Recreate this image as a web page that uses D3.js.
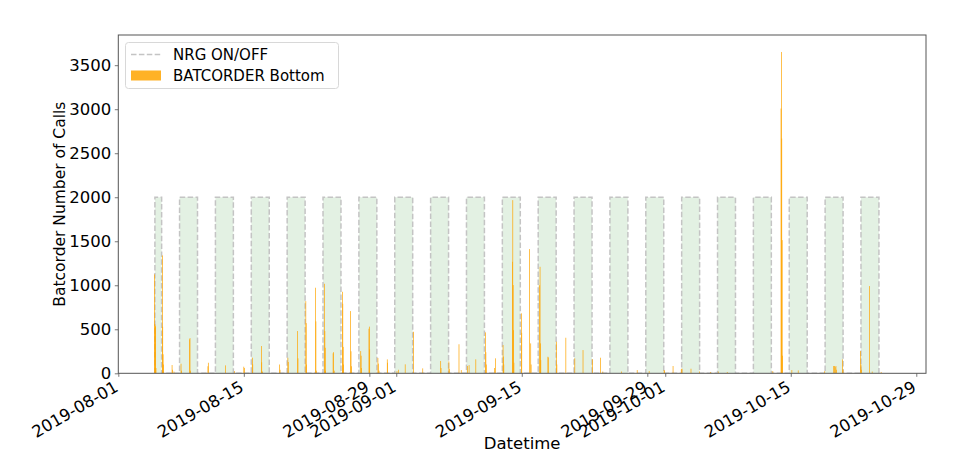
<!DOCTYPE html>
<html>
<head>
<meta charset="utf-8">
<script src="https://cdn.jsdelivr.net/npm/d3@7"></script>
<style>
  html, body { margin: 0; padding: 0; background: #fff; }
  svg { display: block; }
  text { font-family: "DejaVu Sans", sans-serif; fill: #000; }
</style>
</head>
<body>
<svg id="chart" width="969" height="455"></svg>
<script>
// ---------------- data ----------------
const xDomain = ["2019-08-01 00:00", "2019-10-30 02:00"];
const yMax = 3843;
const yTicks = [0, 500, 1000, 1500, 2000, 2500, 3000, 3500];
const xTickLabels = ["2019-08-01", "2019-08-15", "2019-08-29", "2019-09-01", "2019-09-15",
                     "2019-09-29", "2019-10-01", "2019-10-15", "2019-10-29"];

// NRG ON periods (value 2000 while ON, 0 while OFF)
const nrgLevel = 2000;
const nrgOnStart = ["2019-08-05 02:00", "2019-08-07 20:00", "2019-08-11 20:00", "2019-08-15 20:00",
  "2019-08-19 20:00", "2019-08-23 20:00", "2019-08-27 20:00", "2019-08-31 20:00", "2019-09-04 20:00",
  "2019-09-08 20:00", "2019-09-12 20:00", "2019-09-16 20:00", "2019-09-20 20:00", "2019-09-24 20:00",
  "2019-09-28 20:00", "2019-10-02 20:00", "2019-10-06 20:00", "2019-10-10 20:00", "2019-10-14 20:00",
  "2019-10-18 20:00", "2019-10-22 20:00"];
const nrgOnEnd = ["2019-08-05 20:00", "2019-08-09 20:00", "2019-08-13 20:00", "2019-08-17 20:00",
  "2019-08-21 20:00", "2019-08-25 20:00", "2019-08-29 20:00", "2019-09-02 20:00", "2019-09-06 20:00",
  "2019-09-10 20:00", "2019-09-14 20:00", "2019-09-18 20:00", "2019-09-22 20:00", "2019-09-26 20:00",
  "2019-09-30 20:00", "2019-10-04 20:00", "2019-10-08 20:00", "2019-10-12 20:00", "2019-10-16 20:00",
  "2019-10-20 20:00", "2019-10-24 20:00"];

// BATCORDER Bottom: hourly number of calls (only non-zero hours listed)
const batTimes = [
  "2019-08-05 00:00","2019-08-05 01:00","2019-08-05 02:00","2019-08-05 03:00","2019-08-05 04:00",
  "2019-08-05 21:00","2019-08-05 22:00","2019-08-05 23:00","2019-08-06 00:00",
  "2019-08-06 23:00","2019-08-07 00:00","2019-08-07 04:00",
  "2019-08-07 23:00","2019-08-08 00:00",
  "2019-08-08 22:00","2019-08-08 23:00","2019-08-09 00:00",
  "2019-08-10 23:00","2019-08-11 00:00",
  "2019-08-12 22:00","2019-08-13 22:00",
  "2019-08-14 23:00","2019-08-15 01:00",
  "2019-08-15 22:00","2019-08-15 23:00",
  "2019-08-16 22:00","2019-08-16 23:00","2019-08-17 01:00",
  "2019-08-18 23:00","2019-08-19 00:00",
  "2019-08-19 21:00","2019-08-19 22:00",
  "2019-08-20 23:00","2019-08-21 00:00",
  "2019-08-21 21:00","2019-08-21 22:00","2019-08-21 23:00",
  "2019-08-22 23:00","2019-08-23 00:00","2019-08-23 01:00",
  "2019-08-23 23:00","2019-08-24 00:00","2019-08-24 01:00","2019-08-24 02:00",
  "2019-08-24 22:00","2019-08-24 23:00","2019-08-25 01:00",
  "2019-08-25 23:00","2019-08-26 00:00","2019-08-26 01:00","2019-08-26 02:00",
  "2019-08-26 21:00","2019-08-26 22:00","2019-08-26 23:00",
  "2019-08-28 00:00","2019-08-28 01:00","2019-08-28 02:00",
  "2019-08-28 22:00","2019-08-28 23:00","2019-08-29 00:00",
  "2019-08-29 22:00","2019-08-29 23:00","2019-08-30 01:00",
  "2019-08-30 23:00","2019-08-31 00:00",
  "2019-09-01 01:00","2019-09-01 05:00","2019-09-01 23:00",
  "2019-09-02 21:00","2019-09-03 22:00",
  "2019-09-05 22:00","2019-09-05 23:00",
  "2019-09-06 20:00","2019-09-06 21:00",
  "2019-09-07 23:00","2019-09-08 05:00",
  "2019-09-08 22:00","2019-09-09 02:00","2019-09-09 20:00",
  "2019-09-10 22:00","2019-09-10 23:00","2019-09-11 00:00",
  "2019-09-11 22:00","2019-09-12 01:00",
  "2019-09-12 21:00","2019-09-12 22:00","2019-09-12 23:00",
  "2019-09-13 22:00","2019-09-13 23:00","2019-09-14 00:00","2019-09-14 01:00","2019-09-14 02:00",
  "2019-09-14 22:00","2019-09-14 23:00",
  "2019-09-15 20:00","2019-09-15 23:00","2019-09-16 00:00",
  "2019-09-16 23:00","2019-09-17 00:00","2019-09-17 01:00","2019-09-17 02:00",
  "2019-09-17 21:00","2019-09-17 22:00",
  "2019-09-18 20:00","2019-09-18 21:00",
  "2019-09-19 21:00","2019-09-20 21:00","2019-09-21 19:00","2019-09-22 20:00",
  "2019-09-23 18:00","2019-09-24 00:00","2019-09-26 02:00","2019-09-27 20:00",
  "2019-09-29 04:00","2019-09-30 20:00","2019-09-30 21:00",
  "2019-10-01 20:00","2019-10-02 18:00","2019-10-02 20:00","2019-10-03 20:00",
  "2019-10-04 19:00","2019-10-06 00:00","2019-10-06 21:00","2019-10-07 21:00",
  "2019-10-12 23:00",
  "2019-10-13 21:00","2019-10-13 22:00","2019-10-13 23:00","2019-10-14 00:00","2019-10-14 01:00",
  "2019-10-15 02:00","2019-10-15 19:00","2019-10-18 18:00",
  "2019-10-19 18:00","2019-10-19 20:00","2019-10-19 22:00","2019-10-20 00:00","2019-10-20 01:00",
  "2019-10-20 18:00","2019-10-20 19:00",
  "2019-10-22 18:00","2019-10-22 19:00","2019-10-22 20:00",
  "2019-10-23 18:00","2019-10-24 01:00","2019-10-25 01:00"
];
const batCalls = [
  1124, 560, 540, 530, 60,
  1339, 529, 216, 100,
  94, 40, 20,
  109, 30,
  386, 400, 30,
  80, 120,
  90, 25,
  75, 60,
  177, 102,
  310, 125, 20,
  100, 40,
  177, 128,
  480, 170,
  820, 570, 100,
  972, 590, 30,
  1017, 480, 290, 30,
  227, 240, 30,
  926, 790, 300, 100,
  707, 250, 80,
  253, 200, 60,
  506, 530, 272,
  175, 110, 30,
  158, 120,
  25, 40, 102,
  472, 56,
  140, 60,
  135, 50,
  330, 37,
  83, 93, 159,
  465, 240, 100,
  60, 170,
  321, 190, 100,
  1267, 1967, 1002, 490, 120,
  681, 460,
  1411, 340, 100,
  1000, 1210, 340, 150,
  188, 180,
  359, 100,
  404, 170, 264, 160,
  177, 20, 20, 37,
  25, 37, 30,
  83, 50, 52, 52,
  20, 15, 20, 15,
  25,
  3008, 3650, 2667, 1513, 200,
  37, 33, 25,
  83, 83, 70, 83, 40,
  158, 40,
  253, 100, 40,
  991, 20, 15
];

// ---------------- layout ----------------
const W = 969, H = 455;
const margin = { left: 118.3, right: W - 926, top: 35, bottom: H - 373.3 };
const parse = d3.timeParse("%Y-%m-%d %H:%M");
const parseDay = d3.timeParse("%Y-%m-%d");

const svg = d3.select("#chart");
const x = d3.scaleTime()
  .domain(xDomain.map(parse))
  .range([margin.left, W - margin.right]);
const y = d3.scaleLinear()
  .domain([0, yMax])
  .range([H - margin.bottom, margin.top]);

svg.append("defs").append("clipPath").attr("id", "plotclip")
  .append("rect")
  .attr("x", margin.left).attr("y", margin.top)
  .attr("width", W - margin.left - margin.right)
  .attr("height", H - margin.top - margin.bottom);

const plot = svg.append("g").attr("clip-path", "url(#plotclip)");

// NRG ON/OFF fill
const nrg = nrgOnStart.map((s, i) => ({ start: parse(s), end: parse(nrgOnEnd[i]) }));
plot.append("g").selectAll("rect").data(nrg).join("rect")
  .attr("x", d => x(d.start))
  .attr("width", d => x(d.end) - x(d.start))
  .attr("y", y(nrgLevel))
  .attr("height", y(0) - y(nrgLevel))
  .attr("fill", "#008000")
  .attr("fill-opacity", 0.11);

// NRG step line
const stepPts = [];
nrg.forEach(d => {
  stepPts.push([d.start, 0], [d.start, nrgLevel], [d.end, nrgLevel], [d.end, 0]);
});
plot.append("path")
  .attr("d", d3.line().x(p => x(p[0])).y(p => y(p[1]))(stepPts))
  .attr("fill", "none")
  .attr("stroke", "#c4c4c4")
  .attr("stroke-width", 1.5)
  .attr("stroke-dasharray", "5.5,2.4");

// BATCORDER bars (hourly)
const bats = batTimes.map((t, i) => ({ t: parse(t), v: batCalls[i] }));
const barW = 0.7;
plot.append("g").selectAll("rect").data(bats).join("rect")
  .attr("x", d => x(d.t))
  .attr("width", barW)
  .attr("y", d => y(d.v))
  .attr("height", d => y(0) - y(d.v))
  .attr("fill", "#FFA500");

// ---------------- axes ----------------
const axisColor = "#555";
const tickFont = 16.5;

// y axis
const yAxis = svg.append("g").attr("transform", `translate(${margin.left},0)`)
  .call(d3.axisLeft(y).tickValues(yTicks).tickSize(3.5).tickPadding(3.5).tickFormat(d3.format("d")));
yAxis.attr("font-size", tickFont).attr("font-family", "DejaVu Sans");
yAxis.select(".domain").remove();
yAxis.selectAll(".tick line").attr("stroke", axisColor).attr("stroke-width", 0.8);
yAxis.selectAll(".tick text").style("font-size", tickFont + "px").attr("fill", "#000");

// x axis
const xTicks = xTickLabels.map(parseDay);
const xAxis = svg.append("g").attr("transform", `translate(0,${H - margin.bottom})`)
  .call(d3.axisBottom(x).tickValues(xTicks).tickSize(3.5).tickFormat(d3.timeFormat("%Y-%m-%d")));
xAxis.attr("font-size", tickFont).attr("font-family", "DejaVu Sans");
xAxis.select(".domain").remove();
xAxis.selectAll(".tick line").attr("stroke", axisColor).attr("stroke-width", 0.8);
xAxis.selectAll(".tick text")
  .style("font-size", tickFont + "px").attr("fill", "#000")
  .attr("text-anchor", "end")
  .attr("dy", null)
  .attr("y", 0)
  .attr("transform", "translate(0.5,17) rotate(-30)");

// spines
svg.append("rect")
  .attr("x", margin.left).attr("y", margin.top)
  .attr("width", W - margin.left - margin.right)
  .attr("height", H - margin.top - margin.bottom)
  .attr("fill", "none").attr("stroke", axisColor).attr("stroke-width", 1);

// axis labels
svg.append("text")
  .attr("x", (margin.left + W - margin.right) / 2).attr("y", 449)
  .attr("text-anchor", "middle").style("font-size", "16.5px")
  .text("Datetime");
svg.append("text")
  .attr("transform", `translate(65,${(margin.top + H - margin.bottom) / 2}) rotate(-90)`)
  .attr("text-anchor", "middle").style("font-size", "15.5px")
  .text("Batcorder Number of Calls");

// ---------------- legend ----------------
const lg = svg.append("g");
lg.append("rect")
  .attr("x", 125.5).attr("y", 42.5).attr("width", 213).attr("height", 46)
  .attr("rx", 3).attr("fill", "#fff").attr("fill-opacity", 0.8)
  .attr("stroke", "#d8d8d8").attr("stroke-width", 1);
lg.append("line")
  .attr("x1", 131).attr("x2", 161).attr("y1", 54.5).attr("y2", 54.5)
  .attr("stroke", "#c4c4c4").attr("stroke-width", 1.5).attr("stroke-dasharray", "5.5,2.4");
lg.append("text").attr("x", 173).attr("y", 60).style("font-size", "15px").text("NRG ON/OFF");
lg.append("rect")
  .attr("x", 131).attr("y", 70.5).attr("width", 30).attr("height", 10)
  .attr("fill", "#FFA500").attr("fill-opacity", 0.85);
lg.append("text").attr("x", 173).attr("y", 81).style("font-size", "15px").text("BATCORDER Bottom");
</script>
</body>
</html>
